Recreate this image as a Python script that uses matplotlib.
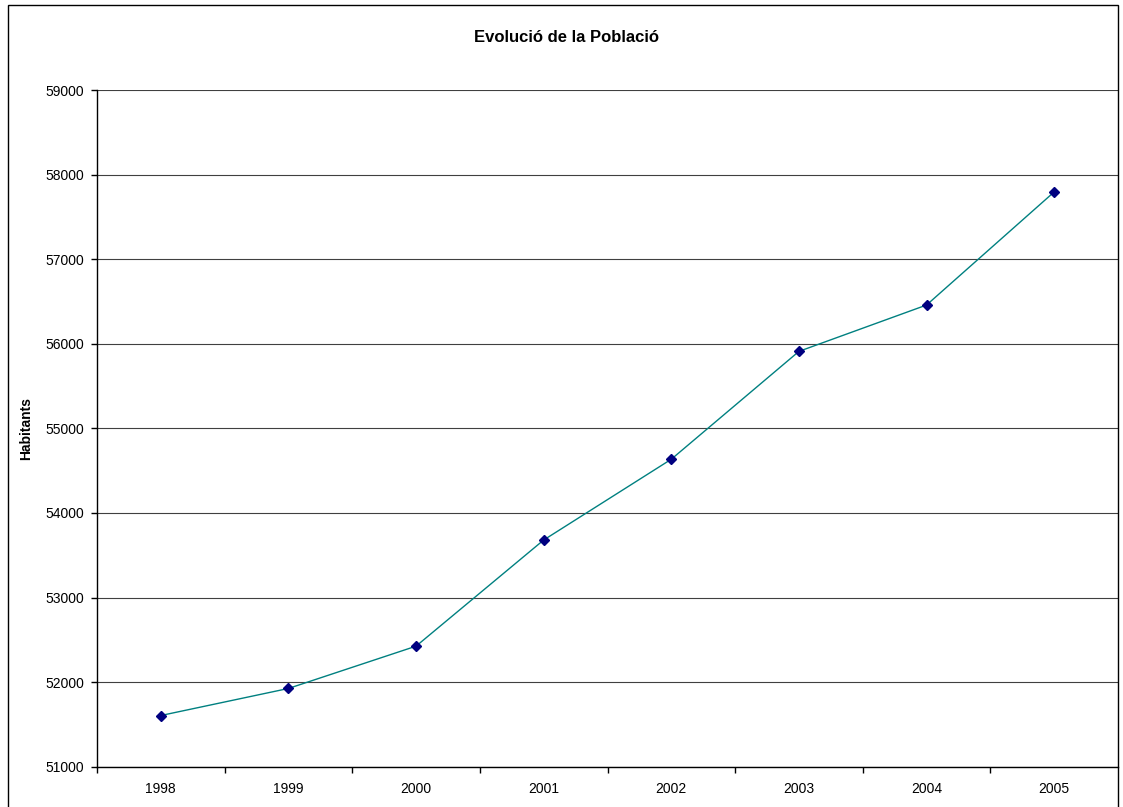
import matplotlib
matplotlib.use("Agg")
import matplotlib.pyplot as plt
from matplotlib.patches import Rectangle

plt.rcParams['font.family'] = ['Liberation Sans', 'DejaVu Sans']

anys = ['1998', '1999', '2000', '2001', '2002', '2003', '2004', '2005']
habitants = [51605, 51925, 52425, 53680, 54635, 55910, 56458, 57795]
y_ticks = [51000, 52000, 53000, 54000, 55000, 56000, 57000, 58000, 59000]

W, H = 1123, 807
fig = plt.figure(figsize=(W / 100, H / 100), dpi=100)

# marc exterior del grafic
fig.patches.append(Rectangle((8 / W, -0.05), (1118 - 8) / W, 1.05 - 5 / H,
                             transform=fig.transFigure, fill=False,
                             edgecolor='black', linewidth=1.0, zorder=10))

ax = fig.add_axes([97 / W, 1 - 766.7 / H, (1118 - 97) / W, (766.7 - 90) / H])

x = list(range(len(anys)))
ax.plot(x, habitants, color='#008080', linewidth=1.0, zorder=3)
ax.plot(x, habitants, linestyle='none', marker='D', markersize=5.5,
        color='#000080', zorder=4)

ax.set_xlim(-0.5, len(anys) - 0.5)
ax.set_ylim(51000, 59000)
ax.set_yticks(y_ticks)
ax.set_yticklabels([str(v) for v in y_ticks], fontsize=10)
ax.set_xticks(x)
ax.set_xticklabels(anys, fontsize=10)
ax.tick_params(axis='x', length=0, pad=11)
# marques entre categories (com a Excel)
ax.set_xticks([i + 0.5 for i in range(-1, len(anys) - 1)], minor=True)
ax.tick_params(axis='x', which='minor', length=4, direction='out', width=1)
ax.tick_params(axis='y', length=4, direction='out', width=1, pad=5)

ax.grid(axis='y', color='#404040', linewidth=0.8)
ax.set_axisbelow(True)
for s in ['top', 'right']:
    ax.spines[s].set_visible(False)
ax.spines['left'].set_linewidth(1.0)
ax.spines['bottom'].set_linewidth(1.0)

ax.set_ylabel('Habitants', fontsize=10, fontweight='bold')
ax.yaxis.set_label_coords((33 - 97) / 1021, 0.5)
fig.text(567 / W, 1 - 38 / H, 'Evolució de la Població',
         ha='center', va='center', fontsize=12, fontweight='bold')

fig.savefig('out.png', dpi=100)
